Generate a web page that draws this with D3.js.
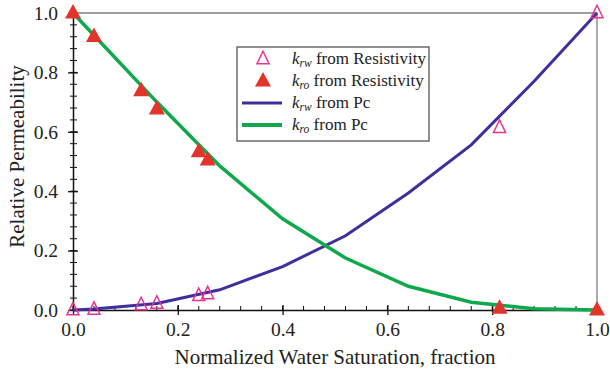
<!DOCTYPE html>
<html>
<head>
<meta charset="utf-8">
<script src="https://cdn.jsdelivr.net/npm/d3@7"></script>
<style>
body { margin: 0; background: #fff; }
</style>
</head>
<body>
<div id="chart"></div>
<script>
var width = 610;
var height = 375;
var margin = {top: 13, right: 13, bottom: 65, left: 73};
var serif = "'Liberation Serif'";

// resistivity points
var resSw = [0.0, 0.04, 0.13, 0.16, 0.24, 0.257, 0.814, 1.0];
var krwRes = [0.0, 0.002, 0.017, 0.022, 0.048, 0.054, 0.614, 1.0];
var kroRes = [1.0, 0.921, 0.738, 0.677, 0.533, 0.505, 0.006, 0.0];

// capillary pressure curves
var pcSw = [0.0, 0.04, 0.16, 0.28, 0.40, 0.52, 0.64, 0.76, 0.88, 1.0];
var krwPc = [0.0, 0.003, 0.022, 0.068, 0.146, 0.25, 0.394, 0.556, 0.77, 1.0];
var kroPc = [1.0, 0.925, 0.70, 0.485, 0.307, 0.175, 0.08, 0.026, 0.004, 0.0];

var xTicks = [0.0, 0.2, 0.4, 0.6, 0.8, 1.0];
var yTicks = [0.0, 0.2, 0.4, 0.6, 0.8, 1.0];

var blue = '#3d309e', green = '#10a84c', red = '#e2342a', pink = '#e8338f';

var svg = d3.select('#chart').append('svg')
    .attr('width', width)
    .attr('height', height);

var x = d3.scaleLinear().domain([0, 1]).range([margin.left, width - margin.right]);
var y = d3.scaleLinear().domain([0, 1]).range([height - margin.bottom, margin.top]);

// frame top / right
svg.append('path')
    .attr('d', 'M' + x(0) + ',' + y(1) + 'H' + x(1) + 'V' + y(0))
    .attr('fill', 'none')
    .attr('stroke', '#808080')
    .attr('stroke-width', 1.3);

// minor ticks (inward)
var minor = d3.range(0, 1.0001, 0.04);
svg.append('g').selectAll('line.mx')
    .data(minor).enter().append('line')
    .attr('x1', function (d) { return x(d); })
    .attr('x2', function (d) { return x(d); })
    .attr('y1', y(0)).attr('y2', y(0) - 4)
    .attr('stroke', '#111').attr('stroke-width', 1);
svg.append('g').selectAll('line.my')
    .data(minor).enter().append('line')
    .attr('y1', function (d) { return y(d); })
    .attr('y2', function (d) { return y(d); })
    .attr('x1', x(0) - 3).attr('x2', x(0) + 4)
    .attr('stroke', '#111').attr('stroke-width', 1);

// axes
var xAxis = svg.append('g')
    .attr('transform', 'translate(0,' + y(0) + ')')
    .call(d3.axisBottom(x).tickValues(xTicks).tickFormat(d3.format('.1f')).tickSizeInner(5).tickSizeOuter(0).tickPadding(7));
xAxis.selectAll('.tick line').attr('y1', -5).attr('stroke', '#111').attr('stroke-width', 1.3);
xAxis.select('.domain').attr('stroke', '#111').attr('stroke-width', 1.5);
xAxis.selectAll('text').attr('fill', '#222')
    .style('font-family', serif).style('font-size', '19.5px');

var yAxis = svg.append('g')
    .attr('transform', 'translate(' + x(0) + ',0)')
    .call(d3.axisLeft(y).tickValues(yTicks).tickFormat(d3.format('.1f')).tickSizeInner(5).tickSizeOuter(0).tickPadding(10));
yAxis.selectAll('.tick line').attr('x1', 5).attr('stroke', '#111').attr('stroke-width', 1.3);
yAxis.select('.domain').attr('stroke', '#111').attr('stroke-width', 1.5);
yAxis.selectAll('text').attr('fill', '#222')
    .style('font-family', serif).style('font-size', '19.5px');

// axis titles
svg.append('text')
    .attr('x', (x(0) + x(1)) / 2)
    .attr('y', 364)
    .attr('text-anchor', 'middle')
    .attr('fill', '#222')
    .style('font-family', serif).style('font-size', '21px')
    .text('Normalized Water Saturation, fraction');

svg.append('text')
    .attr('transform', 'translate(24,' + (y(0.5) - 5) + ') rotate(-90)')
    .attr('text-anchor', 'middle')
    .attr('fill', '#222')
    .style('font-family', serif).style('font-size', '21px')
    .text('Relative Permeability');

// lines
var line = d3.line()
    .x(function (d) { return x(d[0]); })
    .y(function (d) { return y(d[1]); });

svg.append('path')
    .datum(d3.zip(pcSw, krwPc))
    .attr('d', line)
    .attr('fill', 'none')
    .attr('stroke', blue)
    .attr('stroke-width', 3);

svg.append('path')
    .datum(d3.zip(pcSw, kroPc))
    .attr('d', line)
    .attr('fill', 'none')
    .attr('stroke', green)
    .attr('stroke-width', 3.5);

// triangle markers
function tri(cx, cy, w, h) {
    return 'M' + cx + ',' + (cy - h * 0.62) +
        'L' + (cx + w / 2) + ',' + (cy + h * 0.38) +
        'L' + (cx - w / 2) + ',' + (cy + h * 0.38) + 'Z';
}

svg.append('g').selectAll('path')
    .data(d3.zip(resSw, kroRes)).enter().append('path')
    .attr('d', function (d) { return tri(x(d[0]), y(d[1]), 16, 14.5); })
    .attr('fill', red);

svg.append('g').selectAll('path')
    .data(d3.zip(resSw, krwRes)).enter().append('path')
    .attr('d', function (d) { return tri(x(d[0]), y(d[1]), 12, 12.5); })
    .attr('fill', 'none')
    .attr('stroke', pink)
    .attr('stroke-width', 1.5);

// legend
var lg = svg.append('g');
lg.append('rect')
    .attr('x', 237).attr('y', 47)
    .attr('width', 192).attr('height', 94)
    .attr('fill', '#fff')
    .attr('stroke', '#555')
    .attr('stroke-width', 1.3);

var legendItems = [
    {sub: 'rw', label: ' from Resistivity', kind: 'open'},
    {sub: 'ro', label: ' from Resistivity', kind: 'filled'},
    {sub: 'rw', label: ' from Pc', kind: 'blue'},
    {sub: 'ro', label: ' from Pc', kind: 'green'}
];

legendItems.forEach(function (it, i) {
    var cy = 59 + i * 22;
    if (it.kind === 'open') {
        lg.append('path').attr('d', tri(263, cy, 12, 12.5))
            .attr('fill', 'none').attr('stroke', pink).attr('stroke-width', 1.5);
    } else if (it.kind === 'filled') {
        lg.append('path').attr('d', tri(263, cy, 16, 14.5)).attr('fill', red);
    } else {
        lg.append('line')
            .attr('x1', 242).attr('x2', 282)
            .attr('y1', cy).attr('y2', cy)
            .attr('stroke', it.kind === 'blue' ? blue : green)
            .attr('stroke-width', it.kind === 'blue' ? 3 : 4);
    }
    var t = lg.append('text')
        .attr('x', 292).attr('y', cy + 5)
        .attr('fill', '#222')
        .style('font-family', serif).style('font-size', '17px');
    t.append('tspan').style('font-style', 'italic').text('k');
    t.append('tspan').style('font-style', 'italic').style('font-size', '11.5px')
        .attr('dy', 3).text(it.sub);
    t.append('tspan').attr('dy', -3).text(it.label);
});
</script>
</body>
</html>
